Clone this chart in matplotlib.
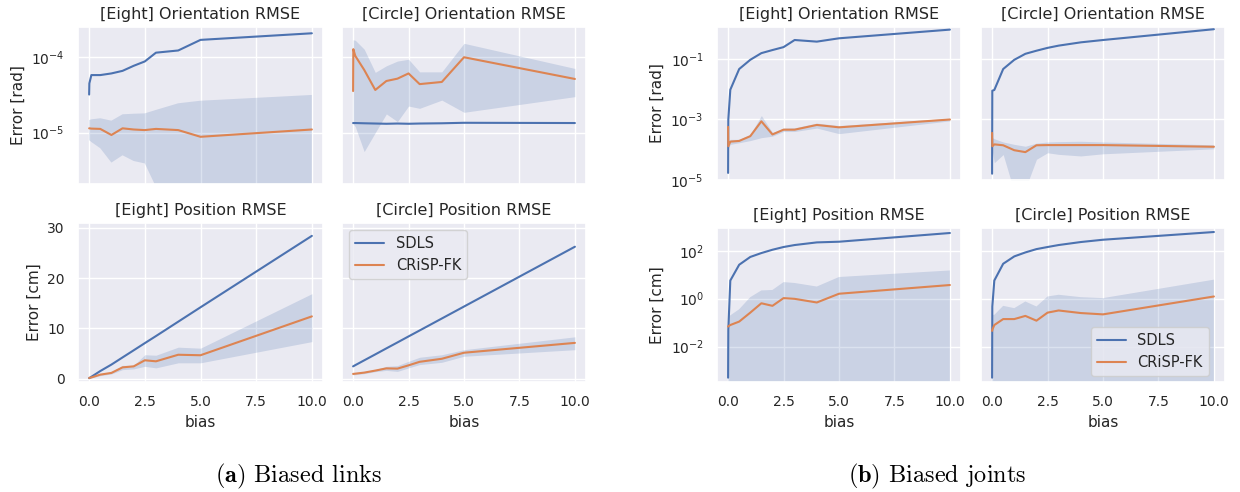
import numpy as np
import matplotlib.pyplot as plt
import seaborn as sns
from matplotlib.ticker import NullFormatter, FixedLocator

sns.set_theme(style='darkgrid')
plt.rcParams['font.family'] = ['DejaVu Sans']

bias = [0, 0.01, 0.1, 0.5, 1, 1.5, 2, 2.5, 3, 4, 5, 10]

# (a) biased links
a_eight_ori_sdls = [3.2e-5, 4.5e-5, 5.8e-5, 5.8e-5, 6.1e-5, 6.6e-5, 7.7e-5, 8.8e-5, 1.15e-4, 1.23e-4, 1.7e-4, 2.08e-4]
a_eight_ori_crisp = [1.14e-5, 1.14e-5, 1.13e-5, 1.12e-5, 9.3e-6, 1.14e-5, 1.1e-5, 1.08e-5, 1.12e-5, 1.08e-5, 8.8e-6, 1.1e-5]
a_eight_ori_hi = [1.47e-5, 1.47e-5, 1.5e-5, 1.55e-5, 1.44e-5, 1.75e-5, 1.78e-5, 1.8e-5, 2.0e-5, 2.45e-5, 2.65e-5, 3.16e-5]
a_eight_ori_lo = [7.9e-6, 7.9e-6, 7.5e-6, 6.2e-6, 4.0e-6, 5.0e-6, 4.2e-6, 3.9e-6, 1.9e-6, 0, 0, 0]

a_circle_ori_sdls = [1.34e-5, 1.34e-5, 1.34e-5, 1.33e-5, 1.32e-5, 1.31e-5, 1.32e-5, 1.31e-5, 1.32e-5, 1.33e-5, 1.35e-5, 1.34e-5]
a_circle_ori_crisp = [3.56e-5, 1.28e-4, 1.04e-4, 6.8e-5, 3.68e-5, 4.84e-5, 5.2e-5, 6.1e-5, 4.4e-5, 4.7e-5, 1.0e-4, 5.15e-5]
a_circle_ori_hi = [1.7e-4, 1.7e-4, 1.68e-4, 1.28e-4, 6.3e-5, 7.7e-5, 8.9e-5, 9.4e-5, 6.4e-5, 6.4e-5, 1.53e-4, 7.1e-5]
a_circle_ori_lo = [1.33e-5, 1.3e-5, 1.2e-5, 5.6e-6, 1.0e-5, 1.77e-5, 1.4e-5, 2.25e-5, 2.1e-5, 2.7e-5, 1.86e-5, 3.0e-5]

a_eight_pos_sdls = [0.15, 0.18, 0.43, 1.57, 2.85, 4.27, 5.68, 7.1, 8.5, 11.35, 14.2, 28.35]
a_eight_pos_crisp = [0.2, 0.22, 0.3, 0.86, 1.2, 2.3, 2.5, 3.7, 3.5, 4.8, 4.7, 12.4]
a_eight_pos_hi = [0.2, 0.25, 0.4, 1.0, 1.4, 2.7, 2.7, 4.8, 4.7, 6.3, 6.1, 16.9]
a_eight_pos_lo = [0.1, 0.12, 0.2, 0.66, 1.0, 1.85, 2.0, 2.5, 2.2, 3.2, 3.2, 7.4]

a_circle_pos_sdls = [2.5, 2.52, 2.74, 3.69, 4.87, 6.06, 7.24, 8.43, 9.61, 11.98, 14.35, 26.2]
a_circle_pos_crisp = [1.0, 1.0, 1.05, 1.26, 1.66, 2.1, 2.05, 2.7, 3.4, 4.0, 5.2, 7.15]
a_circle_pos_hi = [1.2, 1.2, 1.25, 1.45, 1.85, 2.5, 2.65, 3.5, 4.3, 4.8, 5.8, 8.35]
a_circle_pos_lo = [0.8, 0.8, 0.85, 1.06, 1.45, 1.7, 1.5, 2.2, 2.85, 3.3, 4.5, 5.8]

# (b) biased joints
b_eight_ori_sdls = [1.7e-5, 1.0e-3, 9.7e-3, 0.047, 0.095, 0.158, 0.2, 0.25, 0.43, 0.38, 0.49, 0.95]
b_eight_ori_crisp = [5.7e-4, 1.3e-4, 1.85e-4, 1.95e-4, 2.8e-4, 8.7e-4, 3.2e-4, 4.6e-4, 4.6e-4, 6.6e-4, 5.5e-4, 1.0e-3]
b_eight_ori_hi = [6e-4, 1.5e-4, 2.2e-4, 2.2e-4, 3.2e-4, 1.35e-3, 3.7e-4, 5.2e-4, 5.3e-4, 7.6e-4, 6.3e-4, 1.1e-3]
b_eight_ori_lo = [1.1e-4, 1.1e-4, 1.5e-4, 1.7e-4, 2.0e-4, 2.5e-4, 2.8e-4, 4.0e-4, 4.0e-4, 5.2e-4, 3.4e-4, 9.0e-4]

b_circle_ori_sdls = [1.6e-5, 9.0e-3, 9.5e-3, 0.047, 0.095, 0.15, 0.19, 0.236, 0.28, 0.36, 0.43, 0.98]
b_circle_ori_crisp = [3.6e-4, 1.3e-4, 1.5e-4, 1.4e-4, 9.6e-5, 8.3e-5, 1.4e-4, 1.42e-4, 1.42e-4, 1.42e-4, 1.42e-4, 1.25e-4]
b_circle_ori_hi = [2.5e-4, 2.5e-4, 2.3e-4, 1.8e-4, 1.5e-4, 1.3e-4, 1.65e-4, 1.8e-4, 1.85e-4, 1.9e-4, 1.8e-4, 1.45e-4]
b_circle_ori_lo = [9e-5, 9e-5, 3.7e-5, 6.9e-5, 4e-6, 5e-6, 4.8e-5, 7.9e-5, 7e-5, 6.2e-5, 7.3e-5, 1.07e-4]

b_eight_pos_sdls = [5e-4, 0.05, 5.7, 26, 55, 80, 110, 143, 173, 223, 238, 550]
b_eight_pos_crisp = [0.068, 0.07, 0.079, 0.11, 0.26, 0.64, 0.5, 1.05, 0.98, 0.69, 1.6, 3.7]
b_eight_pos_hi = [0.15, 0.16, 0.2, 0.36, 1.15, 2.2, 2.3, 4.9, 4.5, 3.2, 8.0, 15]
b_eight_pos_lo = [0, 0, 0, 0, 0, 0, 0, 0, 0, 0, 0, 0]

b_circle_pos_sdls = [5e-4, 0.47, 5.7, 28.6, 58, 85, 117, 143, 173, 231, 288, 605]
b_circle_pos_crisp = [0.045, 0.05, 0.079, 0.14, 0.14, 0.19, 0.12, 0.26, 0.32, 0.25, 0.22, 1.23]
b_circle_pos_hi = [0.21, 0.21, 0.21, 0.5, 0.4, 0.76, 0.47, 1.23, 1.45, 1.15, 1.05, 6.2]
b_circle_pos_lo = [0, 0, 0, 0, 0, 0, 0, 0, 0, 0, 0, 0]

W, H = 1240, 492
fig = plt.figure(figsize=(W / 100, H / 100), dpi=100)

c0, c1 = sns.color_palette('deep')[0], sns.color_palette('deep')[1]


def add_ax(l, t, r, b, **kw):
    return fig.add_axes([l / W, 1 - b / H, (r - l) / W, (b - t) / H], **kw)


def draw(ax, sdls, crisp, lo, hi, title):
    ax.fill_between(bias, lo, hi, color=c0, alpha=0.2, linewidth=0)
    ax.plot(bias, sdls, color=c0, lw=1.5, label='SDLS')
    ax.plot(bias, crisp, color=c1, lw=1.5, label='CRiSP-FK')
    ax.set_title(title, fontsize=11.5, color='0.15')
    ax.tick_params(labelsize=10)


def group(x0, x1, x2, x3, top_t, top_b, bot_t, bot_b, data, ori_ylim, ori_ticks, pos_log, pos_ylim, pos_ticks):
    ax_eo = add_ax(x0, top_t, x1, top_b)
    ax_co = add_ax(x2, top_t, x3, top_b, sharex=ax_eo, sharey=ax_eo)
    ax_ep = add_ax(x0, bot_t, x1, bot_b, sharex=ax_eo)
    ax_cp = add_ax(x2, bot_t, x3, bot_b, sharex=ax_eo, sharey=ax_ep)
    titles = ['[Eight] Orientation RMSE', '[Circle] Orientation RMSE',
              '[Eight] Position RMSE', '[Circle] Position RMSE']
    for ax, d, t in zip([ax_eo, ax_co, ax_ep, ax_cp], data, titles):
        draw(ax, *d, t)
    ax_eo.set_yscale('log')
    ax_eo.set_ylim(*ori_ylim)
    ax_eo.yaxis.set_major_locator(FixedLocator(ori_ticks))
    ax_eo.yaxis.set_minor_formatter(NullFormatter())
    if pos_log:
        ax_ep.set_yscale('log')
        ax_ep.yaxis.set_major_locator(FixedLocator(pos_ticks))
        ax_ep.yaxis.set_minor_formatter(NullFormatter())
    else:
        ax_ep.set_yticks(pos_ticks)
    ax_ep.set_ylim(*pos_ylim)
    ax_eo.set_xlim(-0.5, 10.5)
    ax_ep.set_xticks([0, 2.5, 5, 7.5, 10])
    for ax in [ax_eo, ax_co]:
        ax.tick_params(labelbottom=False)
    for ax in [ax_co, ax_cp]:
        ax.tick_params(labelleft=False)
    ax_eo.set_ylabel('Error [rad]', fontsize=11)
    ax_ep.set_ylabel('Error [cm]', fontsize=11)
    ax_ep.set_xlabel('bias', fontsize=11)
    ax_cp.set_xlabel('bias', fontsize=11)
    return ax_cp


a_data = [
    (a_eight_ori_sdls, a_eight_ori_crisp, a_eight_ori_lo, a_eight_ori_hi),
    (a_circle_ori_sdls, a_circle_ori_crisp, a_circle_ori_lo, a_circle_ori_hi),
    (a_eight_pos_sdls, a_eight_pos_crisp, a_eight_pos_lo, a_eight_pos_hi),
    (a_circle_pos_sdls, a_circle_pos_crisp, a_circle_pos_lo, a_circle_pos_hi),
]
b_data = [
    (b_eight_ori_sdls, b_eight_ori_crisp, b_eight_ori_lo, b_eight_ori_hi),
    (b_circle_ori_sdls, b_circle_ori_crisp, b_circle_ori_lo, b_circle_ori_hi),
    (b_eight_pos_sdls, b_eight_pos_crisp, b_eight_pos_lo, b_eight_pos_hi),
    (b_circle_pos_sdls, b_circle_pos_crisp, b_circle_pos_lo, b_circle_pos_hi),
]

ax_a = group(78, 323, 342, 586, 27, 184, 223, 382, a_data,
             (2.08e-6, 2.52e-4), [1e-5, 1e-4], False, (-0.6, 30.9), [0, 10, 20, 30])
ax_a.legend(loc='upper left', fontsize=10.5)

ax_b = group(717, 961, 981, 1225, 27, 180, 228, 382, b_data,
             (0.99e-5, 1.16), [1e-5, 1e-3, 1e-1], True, (3.3e-4, 890), [1e-2, 1, 1e2])
ax_b.legend(loc='lower right', fontsize=10.5, bbox_to_anchor=(0.945, 0.02),
            borderaxespad=0.2)

fig.text(299 / W, 1 - 476 / H, r'$\mathbf{(a)}$ Biased links', family='cmr10',
         math_fontfamily='cm', fontsize=17.5, ha='center', va='center', color='black')
fig.text(937 / W, 1 - 476 / H, r'$\mathbf{(b)}$ Biased joints', family='cmr10',
         math_fontfamily='cm', fontsize=17.5, ha='center', va='center', color='black')

fig.savefig('out.png', dpi=100)
